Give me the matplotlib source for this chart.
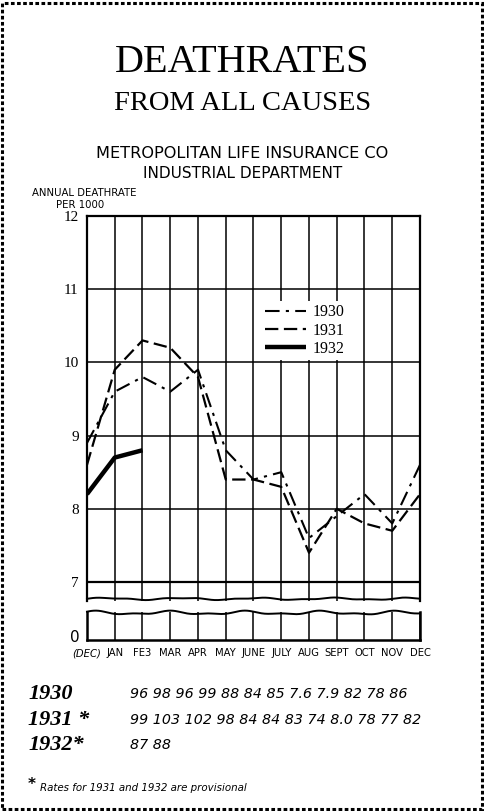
import numpy as np
import matplotlib
matplotlib.use("Agg")
import matplotlib.pyplot as plt
from matplotlib.patches import Rectangle

# month positions, 0 = December of the previous year
months = ["(DEC)", "JAN", "FE3", "MAR", "APR", "MAY", "JUNE", "JULY", "AUG", "SEPT", "OCT", "NOV", "DEC"]
rate_1930 = [8.9, 9.6, 9.8, 9.6, 9.9, 8.8, 8.4, 8.5, 7.6, 7.9, 8.2, 7.8, 8.6]
rate_1931 = [8.6, 9.9, 10.3, 10.2, 9.8, 8.4, 8.4, 8.3, 7.4, 8.0, 7.8, 7.7, 8.2]
rate_1932 = [8.2, 8.7, 8.8]
y_ticks = [7, 8, 9, 10, 11, 12]
y_ticklabels = ["7", "8", "9", "10", "11", "12"]

table_years = ["1930", "1931 *", "1932*"]
table_rows = ["96 98 96 99 88 84 85 7.6 7.9 82 78 86",
              "99 103 102 98 84 84 83 74 8.0 78 77 82",
              "87 88"]

W, H = 485, 811
fig = plt.figure(figsize=(4.85, 8.11), dpi=100)
fig.patch.set_facecolor("white")

def fx(px):
    return px / W

def fy(py):
    return 1 - py / H

# dotted border round the whole sheet
fig.patches.append(Rectangle((0.004, 0.003), 0.99, 0.993, transform=fig.transFigure,
                             fill=False, ec="black", lw=2.2, ls=(0, (1.2, 0.8))))

serif = "Liberation Serif"
sans = "DejaVu Sans"

fig.text(0.5, fy(63), "DEATHRATES", ha="center", va="center", family=serif, fontsize=29)
fig.text(0.5, fy(103), "FROM ALL CAUSES", ha="center", va="center", family=serif, fontsize=20.5)
fig.text(0.5, fy(154), "METROPOLITAN LIFE INSURANCE CO", ha="center", va="center",
         family=sans, fontsize=11.6, color="black")
fig.text(0.5, fy(174), "INDUSTRIAL DEPARTMENT", ha="center", va="center",
         family=sans, fontsize=11, color="black")
fig.text(fx(84), fy(193), "ANNUAL DEATHRATE", ha="center", va="center", family=sans, fontsize=7.3)
fig.text(fx(80), fy(205), "PER 1000", ha="center", va="center", family=sans, fontsize=7.3)

x = np.arange(len(months))
left, right = fx(87), fx(420)

# upper panel (7 - 12)
top_px, bot_px = 216, 601
ax = fig.add_axes([left, fy(bot_px), right - left, (bot_px - top_px) / H])
y_lo = 7 - (bot_px - 582) / ((582 - top_px) / 5)
ax.set_xlim(0, 12)
ax.set_ylim(y_lo, 12)

for xi in x:
    ax.axvline(xi, color="black", lw=1.1, zorder=1)
for yi in y_ticks:
    ax.axhline(yi, color="black", lw=1.6 if yi == 7 else 1.1, zorder=1)

l30, = ax.plot(x, rate_1930, color="black", lw=1.5, ls=(0, (7, 3, 1.5, 3)), label="1930", zorder=3)
l31, = ax.plot(x, rate_1931, color="black", lw=1.6, ls=(0, (6, 2.5)), label="1931", zorder=3)
l32, = ax.plot(x[:len(rate_1932)], rate_1932, color="black", lw=3.2, label="1932",
               solid_capstyle="butt", zorder=3)

ax.set_yticks(y_ticks)
ax.set_yticklabels(y_ticklabels, family=serif, fontsize=11)
ax.set_xticks([])
ax.tick_params(axis="y", length=0, pad=6)
for s in ["top", "left", "right"]:
    ax.spines[s].set_linewidth(1.6)
ax.spines["bottom"].set_visible(False)

# wavy break edge at the bottom of the upper panel
wx = np.linspace(0, 12, 400)
wave = 0.6 * np.sin(wx * 2.3) + 0.3 * np.sin(wx * 5.1)
ax.plot(wx, y_lo + 0.03 + wave * 0.02, color="black", lw=1.4, clip_on=False, zorder=4)

leg = ax.legend(handles=[l30, l31, l32], loc="upper left", bbox_to_anchor=(0.5, 0.8),
                frameon=True, facecolor="white", edgecolor="none", framealpha=1,
                handlelength=2.6, handletextpad=0.4, labelspacing=0.15,
                prop={"family": serif, "size": 11.5}, borderpad=0.2)

# lower panel (0)
ax2 = fig.add_axes([left, fy(640), right - left, (640 - 612) / H])
ax2.set_xlim(0, 12)
ax2.set_ylim(0, 1)
for xi in x:
    ax2.axvline(xi, color="black", lw=1.1)
ax2.plot(wx, 0.97 + 0.05 * np.sin(wx * 2.3 + 1.0) + 0.03 * np.sin(wx * 4.7), color="black",
         lw=1.4, clip_on=False)
ax2.spines["top"].set_visible(False)
for s in ["bottom", "left", "right"]:
    ax2.spines[s].set_linewidth(1.8)
ax2.set_yticks([0.15])
ax2.set_yticklabels(["0"], family=sans, fontsize=11)
ax2.tick_params(axis="y", length=0, pad=5)
ax2.set_xticks(x)
ax2.set_xticklabels(months, family=sans, fontsize=7.2)
ax2.get_xticklabels()[0].set_style("italic")
ax2.tick_params(axis="x", length=0, pad=6)

# table of rates
row_y = [694, 720, 745]
for yr, row, py in zip(table_years, table_rows, row_y):
    fig.text(fx(28), fy(py), yr, ha="left", va="center", family=serif, style="italic",
             fontweight="bold", fontsize=16)
    fig.text(fx(130), fy(py), row, ha="left", va="center", family=sans, style="italic",
             fontsize=10.3)

fig.text(fx(28), fy(784), "*", ha="left", va="center", family=sans, fontweight="bold", fontsize=11)
fig.text(fx(40), fy(788), "Rates for 1931 and 1932 are provisional", ha="left", va="center",
         family=sans, style="italic", fontsize=7.4)

fig.savefig("out.png", dpi=100, facecolor="white")
